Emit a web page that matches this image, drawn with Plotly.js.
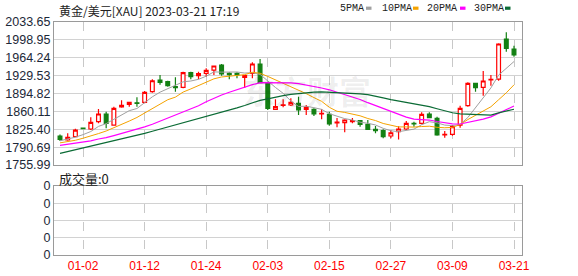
<!DOCTYPE html>
<html><head><meta charset="utf-8">
<script src="https://cdn.plot.ly/plotly-3.0.1.min.js"></script>
<style>html,body{margin:0;padding:0;background:#fff;}#chart{width:578px;height:276px;}</style>
</head><body><div id="chart"></div>
<script>
const dates = ['12-28','12-29','12-30','01-02','01-03','01-04','01-05','01-06','01-09','01-10','01-11','01-12','01-13','01-16','01-17','01-18','01-19','01-20','01-23','01-24','01-25','01-26','01-27','01-30','01-31','02-01','02-02','02-03','02-06','02-07','02-08','02-09','02-10','02-13','02-14','02-15','02-16','02-17','02-20','02-21','02-22','02-23','02-24','02-27','02-28','03-01','03-02','03-03','03-06','03-07','03-08','03-09','03-10','03-13','03-14','03-15','03-16','03-17','03-20','03-21'];
const openP  = [1812.3,1804.5,1810.9,1827.5,1825.9,1840.1,1855.0,1833.6,1868.6,1873.8,1876.9,1877.7,1898.3,1921.0,1917.7,1908.0,1906.8,1935.2,1929.4,1934.0,1940.4,1950.2,1934.0,1934.0,1926.3,1934.0,1952.1,1914.6,1864.1,1871.5,1872.5,1875.8,1864.1,1864.1,1855.0,1854.4,1837.5,1838.1,1840.1,1842.0,1835.0,1825.3,1822.6,1812.3,1820.6,1825.9,1837.0,1837.0,1855.0,1846.6,1814.2,1815.6,1833.6,1871.2,1914.6,1906.8,1921.0,1922.9,2000.6,1981.2];
const highP  = [1815.2,1817.5,1826.4,1828.0,1848.6,1864.7,1859.5,1869.2,1881.6,1878.9,1887.4,1899.6,1922.4,1930.7,1919.6,1926.3,1937.1,1937.1,1937.1,1943.7,1948.8,1952.1,1936.0,1936.0,1929.4,1955.4,1961.8,1915.8,1883.5,1883.5,1885.5,1888.6,1872.5,1866.1,1864.1,1859.5,1847.2,1844.7,1847.2,1843.4,1843.4,1831.7,1825.3,1824.0,1831.0,1841.4,1840.1,1858.3,1858.3,1849.8,1822.0,1833.6,1871.2,1916.6,1915.2,1938.5,1930.7,1992.3,2013.6,1987.6];
const lowP   = [1802.6,1803.2,1809.8,1826.3,1824.0,1837.0,1827.2,1832.3,1867.2,1869.2,1869.2,1875.8,1896.4,1911.9,1908.0,1898.3,1904.9,1922.4,1922.4,1927.4,1930.7,1929.4,1922.4,1924.3,1905.5,1924.3,1914.6,1862.8,1862.8,1868.0,1870.5,1853.1,1853.1,1851.1,1844.7,1832.3,1829.5,1819.5,1837.0,1830.4,1824.0,1817.5,1807.8,1807.8,1805.5,1824.0,1830.4,1835.0,1846.6,1812.9,1808.9,1812.9,1828.4,1869.2,1898.3,1890.5,1910.0,1919.6,1976.0,1966.3];
const closeP = [1805.5,1809.8,1823.9,1826.8,1838.9,1855.0,1836.9,1866.1,1871.9,1877.7,1875.8,1897.1,1919.6,1916.6,1910.0,1906.1,1935.2,1927.4,1933.3,1939.9,1948.2,1932.7,1931.3,1930.7,1929.4,1952.1,1915.8,1866.1,1869.2,1872.9,1877.7,1862.8,1868.0,1855.0,1856.4,1835.6,1839.5,1843.4,1842.0,1835.0,1825.3,1822.6,1810.9,1818.6,1825.9,1837.0,1835.6,1854.4,1847.8,1814.2,1815.6,1830.4,1866.1,1914.6,1906.1,1919.1,1922.4,1990.9,1982.6,1969.6];
const ma5  = [1803,1806,1810,1815,1821.0,1830.9,1836.3,1844.7,1853.8,1861.5,1865.7,1877.7,1888.4,1897.4,1903.8,1909.9,1917.5,1919.1,1922.4,1928.4,1936.8,1936.3,1937.1,1936.6,1934.5,1935.2,1931.9,1918.8,1906.5,1895.2,1880.3,1869.7,1870.1,1867.3,1864.0,1855.6,1850.9,1846.0,1843.4,1839.1,1837.0,1833.7,1827.2,1822.5,1820.7,1823.0,1825.6,1834.3,1840.1,1837.8,1833.5,1832.5,1834.8,1848.2,1866.6,1887.3,1905.7,1930.6,1944.2,1956.9];
const ma10 = [1799,1801,1804,1808,1812,1817,1822,1828,1834.5,1841.3,1848.3,1857.0,1866.6,1875.6,1882.7,1887.8,1897.6,1903.7,1909.9,1916.1,1923.3,1926.9,1928.1,1929.5,1931.4,1936.0,1934.1,1928.0,1921.5,1914.8,1907.8,1900.8,1894.5,1886.9,1879.6,1868.0,1860.3,1858.1,1855.3,1851.5,1846.3,1842.3,1836.6,1832.9,1829.9,1830.0,1829.6,1830.7,1831.3,1829.2,1828.3,1829.0,1834.6,1844.2,1852.2,1860.4,1869.1,1882.7,1896.2,1911.7];
const ma20 = [1794,1796,1798,1800,1803,1806.5,1809,1813,1817,1821,1825,1830,1835,1841,1846,1852,1858,1864,1871,1878.7,1885.8,1892.0,1897.3,1902.5,1907.0,1911.9,1915.8,1915.8,1915.7,1915.5,1915.6,1913.9,1911.3,1908.2,1905.5,1902.0,1897.2,1893.0,1888.4,1883.2,1877.0,1871.5,1865.5,1859.9,1854.7,1849.0,1845.0,1844.4,1843.3,1840.4,1837.3,1835.7,1835.6,1838.5,1841.0,1845.2,1849.4,1856.7,1863.8,1870.5];
const ma30 = [1778.6,1782,1785.5,1789,1792.5,1796,1799.5,1803,1806.5,1810,1813.5,1817.5,1821.5,1825.5,1829.5,1833.5,1837.5,1841.5,1845.5,1850,1854.5,1859,1863,1867,1871.5,1876.5,1881.5,1884.5,1888,1890.7,1893.1,1894.9,1896.4,1897.3,1897.9,1897.3,1897.3,1896.6,1895.6,1894.2,1892.5,1890.0,1886.4,1883.1,1880.3,1878.0,1874.7,1872.2,1869.4,1865.2,1860.8,1857.4,1855.2,1854.7,1853.9,1852.8,1853.0,1857.2,1860.9,1864.2];
const volume = [0,0,0,0,0,0,0,0,0,0,0,0,0,0,0,0,0,0,0,0,0,0,0,0,0,0,0,0,0,0,0,0,0,0,0,0,0,0,0,0,0,0,0,0,0,0,0,0,0,0,0,0,0,0,0,0,0,0,0,0];
const xTickLabels = ['01-02','01-12','01-24','02-03','02-15','02-27','03-09','03-21'];
const yTickVals = [1755.99,1790.69,1825.40,1860.11,1894.82,1929.53,1964.24,1998.95,2033.65];
const yTickText = ['1755.99','1790.69','1825.40','1860.11','1894.82','1929.53','1964.24','1998.95','2033.65'];
const volTickVals = [0,1,2,3,4];
const volTickText = ['0','0','0','0','0'];
const titleText = '黄金/美元[XAU] 2023-03-21 17:19';
const volTitle = '成交量:0';
const legendNames = ['5PMA','10PMA','20PMA','30PMA'];
const maColors = ['#a0a0a0','#f5a300','#ff00ff','#0b6b35'];

const W=578,H=276,L=54,R=56,T=22,B=21;
const pw=W-L-R, ph=H-T-B;
const px=x=>(x-L)/pw, py=y=>(H-B-y)/ph;

const traces = [];
traces.push({type:'candlestick', x:dates, open:openP, high:highP, low:lowP, close:closeP,
  xaxis:'x', yaxis:'y', whiskerwidth:0, hoverinfo:'skip', showlegend:false,
  increasing:{line:{color:'#ff0000',width:1.2}, fillcolor:'#ffffff'},
  decreasing:{line:{color:'#138013',width:1.2}, fillcolor:'#138013'}});
[ma5,ma10,ma20,ma30].forEach((m,i)=>{
  traces.push({type:'scatter',mode:'lines',x:dates,y:m,xaxis:'x',yaxis:'y',
    line:{color:maColors[i],width:i>=2?1.2:1},hoverinfo:'skip',showlegend:false});
});
traces.push({type:'bar',x:dates,y:volume,xaxis:'x2',yaxis:'y2',marker:{color:'#138013'},showlegend:false,hoverinfo:'skip'});

const xr=[-0.78,60.04];
const commonX = {type:'category', categoryorder:'array', categoryarray:dates, range:xr,
  showgrid:true, gridcolor:'#c8c8c8', griddash:'dash', gridwidth:1,
  tickvals:xTickLabels, ticktext:xTickLabels, showline:true, mirror:true, linecolor:'#9a9a9a', linewidth:1,
  zeroline:false, fixedrange:true, ticks:''};
const annotations = [
  {text:titleText, xref:'paper', yref:'paper', x:px(57), y:py(10), xanchor:'left', yanchor:'middle', showarrow:false,
   font:{family:'Noto Sans CJK SC', size:12, color:'#222'}},
  {text:volTitle, xref:'paper', yref:'paper', x:px(57), y:py(178), xanchor:'left', yanchor:'middle', showarrow:false,
   font:{family:'Noto Sans CJK SC', size:13, color:'#222'}},
  {text:'东方财富', xref:'paper', yref:'paper', x:px(307), y:py(90), xanchor:'center', yanchor:'middle', showarrow:false,
   font:{family:'Noto Sans CJK SC', size:32, color:'rgba(0,0,0,0.07)', weight:700}}
];
const legX=[338,380,425,472], swX=[366,413,460,505];
const shapes=[];
legendNames.forEach((n,i)=>{
  annotations.push({text:n, xref:'paper', yref:'paper', x:px(legX[i]), y:py(9), xanchor:'left', yanchor:'middle', showarrow:false,
    font:{family:'Liberation Mono', size:10, color:'#222'}});
  shapes.push({type:'rect', xref:'paper', yref:'paper', x0:px(swX[i]), x1:px(swX[i]+5.5), y0:py(9.8), y1:py(6.6),
    line:{width:0}, fillcolor:maColors[i]});
});

const layout = {
  width:W, height:H, margin:{l:L,r:R,t:T,b:B}, paper_bgcolor:'#fff', plot_bgcolor:'#fff',
  showlegend:false,
  xaxis: Object.assign({}, commonX, {anchor:'y', showticklabels:false, rangeslider:{visible:false}}),
  xaxis2: Object.assign({}, commonX, {anchor:'y2', showticklabels:true, tickfont:{family:'Liberation Sans', size:12, color:'#ff0000'}}),
  yaxis: {domain:[py(165),1], range:[1755.99,2033.65], tickvals:yTickVals, ticktext:yTickText,
    showgrid:true, gridcolor:'#d2d2d2', showline:true, mirror:true, linecolor:'#9a9a9a', zeroline:false, fixedrange:true,
    tickfont:{family:'Liberation Sans', size:12.5, color:'#1c2838'}, ticks:''},
  yaxis2: {domain:[0,py(186)], range:[0,4], tickvals:volTickVals, ticktext:volTickText,
    showgrid:true, gridcolor:'#d2d2d2', showline:true, mirror:true, linecolor:'#9a9a9a', zeroline:false, fixedrange:true,
    tickfont:{family:'Liberation Sans', size:12.5, color:'#1c2838'}, ticks:''},
  annotations, shapes
};
Plotly.newPlot('chart', traces, layout, {staticPlot:true, displayModeBar:false});
</script></body></html>
